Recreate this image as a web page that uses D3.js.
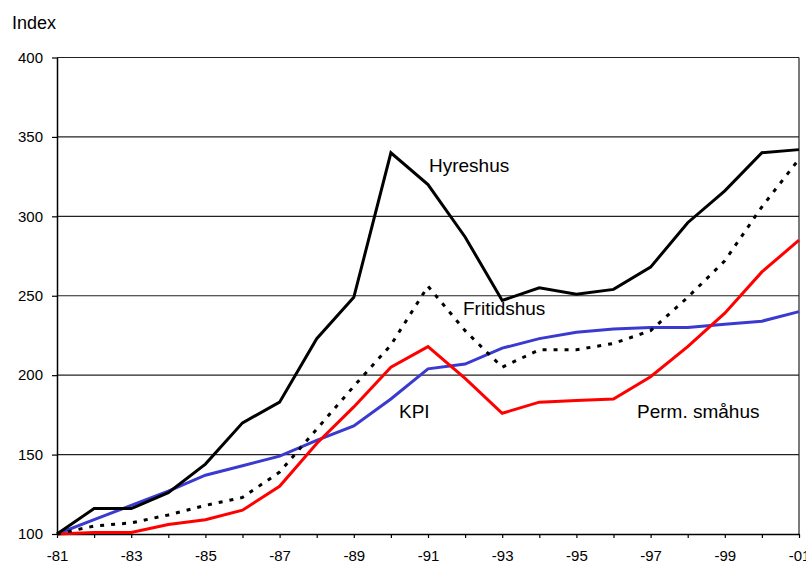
<!DOCTYPE html>
<html>
<head>
<meta charset="utf-8">
<script src="https://cdn.jsdelivr.net/npm/d3@7"></script>
<style>
  html, body { margin: 0; padding: 0; background: #fff; }
  svg { display: block; font-family: "Liberation Sans", Arial, sans-serif; }
</style>
</head>
<body>
<svg id="chart" width="806" height="564"></svg>
<script>
// Price indices, 1981 = 100
const years = d3.range(1981, 2002);
const hyreshus = [100, 116, 116, 126, 144, 170, 183, 223, 249, 340, 320, 287, 247, 255, 251, 254, 268, 296, 316, 340, 342];
const fritidshus = [100, 105, 107, 112, 118, 123, 139, 166, 193, 219, 256, 228, 205, 216, 216, 220, 228, 249, 272, 306, 336];
const kpi = [100, 109, 118, 127, 137, 143, 149, 159, 168, 185, 204, 207, 217, 223, 227, 229, 230, 230, 232, 234, 240];
const permSmahus = [100, 101, 101, 106, 109, 115, 130, 157, 180, 205, 218, 198, 176, 183, 184, 185, 199, 218, 239, 265, 285];
const yTicks = [100, 150, 200, 250, 300, 350, 400];
const xTickLabel = yr => "-" + String(yr % 100).padStart(2, "0");

const svg = d3.select("#chart");
const plotLeft = 57, plotRight = 799, plotTop = 57.5, plotBottom = 534;

const x = d3.scaleLinear().domain([1981, 2001]).range([plotLeft, plotRight]);
const y = d3.scaleLinear().domain([100, 400]).range([plotBottom, plotTop]);

// horizontal gridlines
svg.append("g")
  .selectAll("line")
  .data(yTicks.filter(v => v > 100))
  .join("line")
  .attr("x1", plotLeft).attr("x2", plotRight)
  .attr("y1", d => y(d)).attr("y2", d => y(d))
  .attr("stroke", "#222").attr("stroke-width", 1.2);

// right frame edge
svg.append("line")
  .attr("x1", plotRight).attr("x2", plotRight)
  .attr("y1", plotTop).attr("y2", plotBottom)
  .attr("stroke", "#222").attr("stroke-width", 1.2);

// y axis
const yAxis = svg.append("g")
  .attr("transform", `translate(${plotLeft},0)`)
  .call(d3.axisLeft(y).tickValues(yTicks).tickSize(5).tickSizeOuter(0).tickPadding(9).tickFormat(d3.format("d")));
yAxis.select(".domain").attr("stroke", "#000").attr("stroke-width", 1.5);
yAxis.selectAll(".tick line").attr("stroke", "#000").attr("stroke-width", 1.2);
yAxis.selectAll("text").attr("font-size", 15).attr("fill", "#000")
  .attr("font-family", "'Liberation Sans', Arial, sans-serif");

// x axis
const xAxis = svg.append("g")
  .attr("transform", `translate(0,${plotBottom})`)
  .call(d3.axisBottom(x).tickValues(years).tickSize(4).tickSizeOuter(0).tickPadding(12)
    .tickFormat(d => (d - 1981) % 2 === 0 ? xTickLabel(d) : ""));
xAxis.select(".domain").attr("stroke", "#000").attr("stroke-width", 1.5);
xAxis.selectAll(".tick line").attr("stroke", "#000").attr("stroke-width", 1.2);
xAxis.selectAll("text").attr("font-size", 15).attr("fill", "#000")
  .attr("font-family", "'Liberation Sans', Arial, sans-serif");

// series lines
const line = d3.line().x((d, i) => x(years[i])).y(d => y(d));
const series = [
  { values: kpi, color: "#3a3ad0", dash: null },
  { values: permSmahus, color: "#ff0000", dash: null },
  { values: fritidshus, color: "#000", dash: "4,7" },
  { values: hyreshus, color: "#000", dash: null }
];
svg.append("g")
  .selectAll("path")
  .data(series)
  .join("path")
  .attr("d", d => line(d.values))
  .attr("fill", "none")
  .attr("stroke", d => d.color)
  .attr("stroke-width", 3)
  .attr("stroke-linejoin", "miter")
  .attr("stroke-dasharray", d => d.dash);

// series names and axis title
const labels = [
  { text: "Index", x: 12, y: 29, size: 18 },
  { text: "Hyreshus", x: 429, y: 172, size: 19 },
  { text: "Fritidshus", x: 463, y: 315, size: 19 },
  { text: "KPI", x: 399, y: 418, size: 19 },
  { text: "Perm. småhus", x: 637, y: 418, size: 19 }
];
svg.append("g")
  .selectAll("text")
  .data(labels)
  .join("text")
  .attr("x", d => d.x).attr("y", d => d.y)
  .attr("font-size", d => d.size)
  .attr("fill", "#000")
  .text(d => d.text);
</script>
</body>
</html>
